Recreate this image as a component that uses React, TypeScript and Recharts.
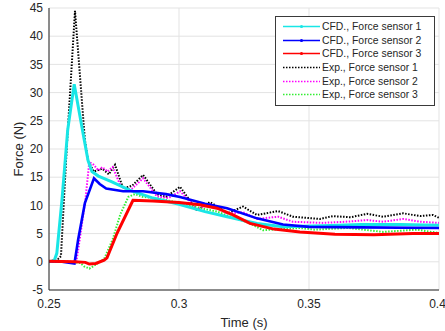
import { LineChart, Line, XAxis, YAxis, CartesianGrid, Legend, Label } from 'recharts';

// time (s) / force (N) samples
const cfd1Time = [0.25, 0.252, 0.253, 0.255, 0.2572, 0.2597, 0.263, 0.265, 0.2665, 0.269, 0.274, 0.281, 0.29, 0.3, 0.31, 0.3185, 0.33, 0.34, 0.355, 0.37, 0.385, 0.4];
const cfd1Force = [0, 0.2, 1.5, 11, 23.4, 31.5, 23, 18, 16, 15.2, 14.2, 12.7, 11.3, 10.2, 8.9, 8, 6.8, 6.2, 6.4, 6.6, 6.6, 6.5];

const cfd2Time = [0.25, 0.255, 0.2598, 0.2612, 0.2638, 0.2673, 0.2695, 0.272, 0.2785, 0.2862, 0.295, 0.3004, 0.31, 0.3185, 0.33, 0.34, 0.35, 0.37, 0.4];
const cfd2Force = [0.1, 0, -0.3, 3.9, 10.4, 14.8, 13.8, 13, 12.5, 12.5, 12, 11.5, 10.3, 9.5, 7.7, 6.6, 6.2, 6.1, 6.0];

const cfd3Time = [0.25, 0.26, 0.264, 0.2655, 0.268, 0.2712, 0.2723, 0.2762, 0.2823, 0.29, 0.3, 0.308, 0.3146, 0.3208, 0.3273, 0.3365, 0.3465, 0.36, 0.375, 0.39, 0.4];
const cfd3Force = [0.1, 0, -0.1, -0.4, -0.3, 0.3, 0.7, 5.1, 10.9, 10.8, 10.5, 10.1, 9.5, 8.3, 6.8, 5.8, 5.3, 4.9, 4.8, 5.0, 5.0];

const exp1Time = [0.25, 0.252, 0.2535, 0.2546, 0.2568, 0.26, 0.2638, 0.265, 0.2672, 0.2705, 0.273, 0.2754, 0.2785, 0.282, 0.2862, 0.2915, 0.295, 0.3004, 0.3069, 0.3119, 0.3188, 0.3246, 0.33, 0.3381, 0.3438, 0.3542, 0.3592, 0.366, 0.3723, 0.3785, 0.3862, 0.3927, 0.3977, 0.4];
const exp1Force = [0, 0.3, 0.5, 1, 20, 44.5, 21.6, 18, 16, 16.5, 15.5, 17.2, 13, 13.5, 15.4, 12, 11.5, 13.3, 9.1, 10.6, 8.6, 9.8, 8.3, 9.0, 8.0, 7.6, 8.1, 7.9, 8.5, 8.0, 8.6, 8.1, 8.3, 7.8];

const exp2Time = [0.25, 0.258, 0.2605, 0.2615, 0.264, 0.2655, 0.2672, 0.269, 0.2705, 0.2725, 0.2745, 0.2775, 0.2795, 0.282, 0.2862, 0.2915, 0.296, 0.3004, 0.307, 0.312, 0.3188, 0.3246, 0.33, 0.3381, 0.3438, 0.355, 0.364, 0.3723, 0.3785, 0.3862, 0.3927, 0.4];
const exp2Force = [0, 0, 0, 3, 11, 17.7, 17.2, 16.2, 16.8, 16, 16.8, 13.5, 12.8, 13, 14.8, 11.6, 11.3, 12.5, 9.3, 10.2, 8.5, 8.8, 7.6, 8.0, 7.1, 6.9, 7.1, 7.4, 7.1, 7.6, 7.1, 6.9];

const exp3Time = [0.25, 0.258, 0.262, 0.2635, 0.2655, 0.267, 0.2712, 0.2745, 0.2775, 0.2805, 0.283, 0.2862, 0.292, 0.3, 0.3085, 0.3146, 0.3273, 0.3323, 0.3465, 0.352, 0.365, 0.3785, 0.3915, 0.4];
const exp3Force = [0, 0, -0.2, -0.8, -1.2, -0.8, 0.5, 4, 8.5, 11.5, 12, 11.5, 11.2, 10.5, 9.5, 8.9, 6.8, 5.6, 6.0, 5.7, 6.0, 5.3, 5.7, 5.1];

const xTicks = [0.25, 0.3, 0.35, 0.4];
const yTicks = [-5, 0, 5, 10, 15, 20, 25, 30, 35, 40, 45];

const toPoints = (ts: number[], fs: number[]) => ts.map((t, i) => ({ t, f: fs[i] }));

const series = [
  { name: 'CFD., Force sensor 1', color: '#19e6e6', width: 3, dotted: false, data: toPoints(cfd1Time, cfd1Force) },
  { name: 'CFD., Force sensor 2', color: '#0000ff', width: 2.6, dotted: false, data: toPoints(cfd2Time, cfd2Force) },
  { name: 'CFD., Force sensor 3', color: '#ff0000', width: 3, dotted: false, data: toPoints(cfd3Time, cfd3Force) },
  { name: 'Exp., Force sensor 1', color: '#000000', width: 2, dotted: true, data: toPoints(exp1Time, exp1Force) },
  { name: 'Exp., Force sensor 2', color: '#ff00ff', width: 2, dotted: true, data: toPoints(exp2Time, exp2Force) },
  { name: 'Exp., Force sensor 3', color: '#33ee33', width: 2, dotted: true, data: toPoints(exp3Time, exp3Force) },
];

// draw the dotted experiment lines first, simulations on top
const drawOrder = [3, 4, 5, 0, 1, 2];

const font = '"Liberation Sans", Arial, sans-serif';
const ink = '#262626';

const LegendBox = () => (
  <div
    style={{
      background: '#fff',
      border: '1px solid #3a3a3a',
      padding: '3px 0',
      width: 160,
      fontFamily: font,
      fontSize: 10.4,
      color: ink,
      boxSizing: 'border-box',
    }}
  >
    {series.map((s) => (
      <div key={s.name} style={{ display: 'flex', alignItems: 'center', height: 13.6 }}>
        <svg width={46} height={13} style={{ flex: 'none' }}>
          <line
            x1={7}
            x2={44}
            y1={6.5}
            y2={6.5}
            stroke={s.color}
            strokeWidth={s.dotted ? 1.6 : 1.3}
            strokeDasharray={s.dotted ? '1.5 1.5' : undefined}
          />
          {!s.dotted && <circle cx={25.5} cy={6.5} r={1.6} fill={s.color} />}
        </svg>
        <span style={{ whiteSpace: 'nowrap' }}>{s.name}</span>
      </div>
    ))}
  </div>
);

export default function App() {
  return (
    <div style={{ position: 'absolute', left: 0, top: 0, background: '#fff' }}>
      <LineChart width={445} height={331} margin={{ top: 8, right: 6, bottom: 0, left: 0 }}>
        <CartesianGrid stroke="#e3e3e3" strokeWidth={1} />
        <XAxis
          dataKey="t"
          type="number"
          domain={[0.25, 0.4]}
          ticks={xTicks}
          allowDataOverflow
          height={41}
          tickLine={false}
          tickSize={4}
          tickMargin={5}
          axisLine={{ stroke: ink }}
          tick={{ fontSize: 12, fill: ink, fontFamily: font }}
          tickFormatter={(v) => String(v)}
        >
          <Label value="Time (s)" position="insideBottom" offset={4} style={{ fontSize: 13, fill: ink, fontFamily: font }} />
        </XAxis>
        <XAxis xAxisId="top" orientation="top" type="number" domain={[0.25, 0.4]} height={0} tick={false} tickLine={false} axisLine={{ stroke: ink }} />
        <YAxis
          type="number"
          domain={[-5, 45]}
          ticks={yTicks}
          allowDataOverflow
          width={49}
          tickLine={false}
          tickSize={4}
          tickMargin={2}
          axisLine={{ stroke: ink }}
          tick={{ fontSize: 12, fill: ink, fontFamily: font }}
        >
          <Label
            value="Force (N)"
            angle={-90}
            position="insideLeft"
            offset={18}
            style={{ fontSize: 13, fill: ink, fontFamily: font, textAnchor: 'middle' }}
          />
        </YAxis>
        <YAxis yAxisId="right" orientation="right" type="number" domain={[-5, 45]} width={0} tick={false} tickLine={false} axisLine={{ stroke: ink }} />
        {drawOrder.map((i) => {
          const s = series[i];
          return (
            <Line
              key={s.name}
              data={s.data}
              dataKey="f"
              name={s.name}
              type="linear"
              stroke={s.color}
              strokeWidth={s.width}
              strokeDasharray={s.dotted ? '1.5 1.5' : undefined}
              dot={false}
              activeDot={false}
              isAnimationActive={false}
            />
          );
        })}
        <Legend
          layout="vertical"
          align="center"
          verticalAlign="middle"
          wrapperStyle={{ left: 275, top: 16, width: 160 }}
          content={() => <LegendBox />}
        />
      </LineChart>
    </div>
  );
}
